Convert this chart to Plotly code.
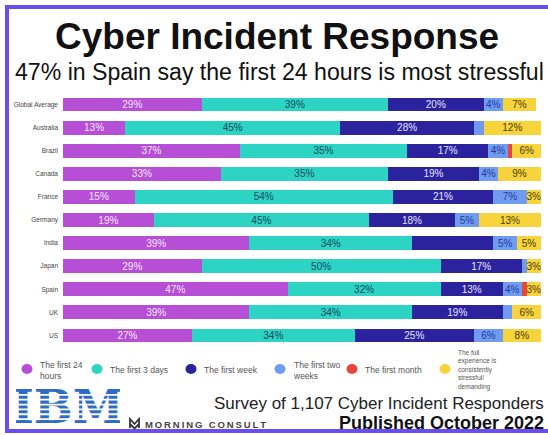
import plotly.graph_objects as go

# Survey data: share of responders naming each period as most stressful (%)
categories = ["Global Average", "Australia", "Brazil", "Canada", "France", "Germany",
              "India", "Japan", "Spain", "UK", "US"]
first_24h = [29, 13, 37, 33, 15, 19, 39, 29, 47, 39, 27]
first_3d = [39, 45, 35, 35, 54, 45, 34, 50, 32, 34, 34]
first_week = [20, 28, 17, 19, 21, 18, 17, 17, 13, 19, 25]
first_two_weeks = [4, 2, 4, 4, 7, 5, 5, 1, 4, 2, 6]
first_month = [0, 0, 1, 0, 0, 0, 0, 0, 1, 0, 0]
full_experience = [7, 12, 6, 9, 3, 13, 5, 3, 3, 6, 8]

series_names = ["The first 24<br>hours", "The first 3 days", "The first week",
                "The first two<br>weeks", "The first month",
                "The full<br>experience is<br>consistently<br>stressful/<br>demanding"]
series_values = [first_24h, first_3d, first_week, first_two_weeks, first_month, full_experience]
# labels that the original leaves off
hidden_labels = [("India", 2)]

colors = ["#b64fd6", "#2dd4c4", "#2b229e", "#6f9cf0", "#e8453c", "#f8d43c"]
text_colors = ["#f4e8fa", "#16485c", "#e6e6ff", "#26389a", "#ffffff", "#4a3c0c"]

W, H = 548, 435


def px(x):
    return x / W


def py(y):
    return 1 - y / H


SANS = "Liberation Sans, Arial, sans-serif"

fig = go.Figure()
for i, (name, vals) in enumerate(zip(series_names, series_values)):
    labels = []
    for cat, v in zip(categories, vals):
        if v >= 3 and (cat, i) not in hidden_labels:
            labels.append(f"{v}%")
        else:
            labels.append("")
    fig.add_trace(go.Bar(
        y=categories, x=vals, name=name, orientation="h",
        marker=dict(color=colors[i], line=dict(width=0)),
        text=labels, textposition="inside", insidetextanchor="middle",
        textangle=0, constraintext="none",
        textfont=dict(family=SANS, size=10, color=text_colors[i]),
        showlegend=False, hoverinfo="skip",
    ))

# logo text in its own little subplot so white stripes can sit on top
fig.add_trace(go.Scatter(
    x=[0], y=[0], mode="text", text=["<b>IBM</b>"],
    textfont=dict(family="DejaVu Serif, serif", size=46, color="#2f6cc8"),
    xaxis="x2", yaxis="y2", showlegend=False, hoverinfo="skip",
))

fig.update_layout(
    width=W, height=H,
    margin=dict(l=0, r=0, t=0, b=0),
    paper_bgcolor="white", plot_bgcolor="white",
    barmode="stack", bargap=0.4,
    xaxis=dict(domain=[px(63), px(541)], range=[0, 100], visible=False, fixedrange=True),
    yaxis=dict(domain=[py(347), py(93)], autorange="reversed", showgrid=False,
               ticks="", showline=False, ticklabelstandoff=4, fixedrange=True,
               tickfont=dict(family=SANS, size=6.5, color="#444")),
    xaxis2=dict(domain=[px(16), px(120)], range=[-1, 1], visible=False, anchor="y2"),
    yaxis2=dict(domain=[py(434), py(389)], range=[-1, 1], visible=False, anchor="x2"),
    font=dict(family=SANS),
)

mc = "\u2009".join("MORNING CONSULT")
annotations = [
    dict(text="<b>Cyber Incident Response</b>", x=px(277), y=py(37),
         font=dict(size=37, color="#111")),
    dict(text="47% in Spain say the first 24 hours is most stressful", x=px(279), y=py(72),
         font=dict(size=23.1, color="#111")),
    dict(text="Survey of 1,107 Cyber Incident Responders", x=px(546), y=py(403),
         xanchor="right", font=dict(size=17, color="#222")),
    dict(text="<b>Published October 2022</b>", x=px(546), y=py(423),
         xanchor="right", font=dict(size=18, color="#111")),
    dict(text=f"<b>{mc}</b>", x=px(143), y=py(424), xanchor="left",
         font=dict(size=9.5, color="#444")),
]
for a in annotations:
    a.setdefault("xanchor", "center")
    a.update(xref="paper", yref="paper", showarrow=False, yanchor="middle")

shapes = []
# legend: dot + label
legend_x = [27, 97, 191, 280, 352, 445]
for i, name in enumerate(series_names):
    cx, cy = legend_x[i], 369
    shapes.append(dict(type="circle", xref="paper", yref="paper",
                       x0=px(cx - 5.5), x1=px(cx + 5.5), y0=py(cy + 5), y1=py(cy - 5),
                       fillcolor=colors[i], line=dict(width=0)))
    many = name.count("<br>") > 1
    annotations.append(dict(text=name, x=px(cx + 11), y=py(370),
                            xref="paper", yref="paper", showarrow=False,
                            xanchor="left", yanchor="middle", align="left",
                            font=dict(size=6.5 if many else 8.5, color="#555")))

# white stripes through the logo
for k in range(1, 8):
    yy = 390 + k * 4.85
    shapes.append(dict(type="rect", xref="paper", yref="paper", layer="above",
                       x0=px(12), x1=px(124), y0=py(yy + 0.9), y1=py(yy - 0.9),
                       fillcolor="white", line=dict(width=0)))

# morning consult mark
mx = [130, 134.5, 139]
shapes.append(dict(type="path", xref="paper", yref="paper",
                   path=(f"M {px(mx[0])},{py(428)} L {px(mx[0])},{py(419)} L {px(mx[1])},{py(424)} "
                         f"L {px(mx[2])},{py(419)} L {px(mx[2])},{py(428)} "
                         f"M {px(mx[0])},{py(424)} L {px(mx[1])},{py(428.5)} L {px(mx[2])},{py(424)}"),
                   line=dict(color="#333", width=1.8)))

# frame
shapes.append(dict(type="rect", xref="paper", yref="paper",
                   x0=px(7), x1=px(570), y0=py(431), y1=py(7),
                   line=dict(color="#6a4df2", width=4)))

fig.update_layout(annotations=annotations, shapes=shapes)
fig.write_html("out.html", config={"displayModeBar": False},
               post_script="document.body.style.margin='0';document.body.style.overflow='hidden';")
